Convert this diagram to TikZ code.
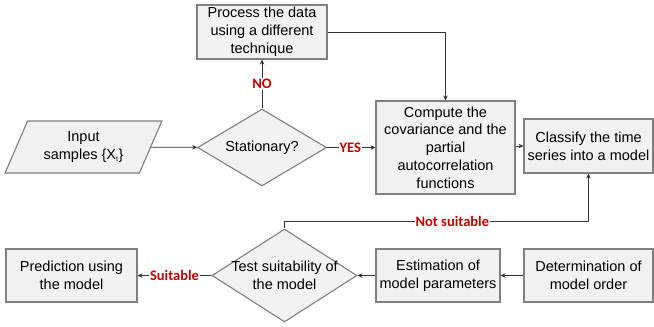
\documentclass[tikz,border=0pt]{standalone}
\usepackage{fontspec}
\setmainfont{Liberation Sans}
\newfontfamily\labfont{Carlito}
\usetikzlibrary{shapes.geometric,arrows.meta}
\definecolor{boxfill}{HTML}{F2F2F2}
\definecolor{boxline}{HTML}{808080}
\definecolor{wire}{HTML}{333333}
\definecolor{labred}{HTML}{C00000}
\tikzset{
  txt/.style={align=center, font=\fontsize{14.5}{17.8}\selectfont, inner sep=0pt},
  base/.style={txt, draw=boxline, fill=boxfill, line width=1.1pt},
  procbox/.style={base, rectangle},
  decision/.style={base, diamond},
  iobox/.style={base, trapezium, trapezium left angle=62.5,
    trapezium right angle=117.5, trapezium stretches=true},
  wirearrow/.style={draw=wire, line width=0.8pt, line join=round,
    -{Stealth[length=5pt,width=4.5pt]}},
  lab/.style={fill=white, text=labred, inner sep=1pt,
    font=\labfont\bfseries\fontsize{14.5}{16}\selectfont}
}
\begin{document}
\begin{tikzpicture}[x=1pt,y=-1pt]
\useasboundingbox (0,0) rectangle (654,327);

% top part
\node[iobox, minimum width=157pt, minimum height=52pt] (input) at (83.5,147)
  {Input\\samples \{X\textsubscript{\scriptsize t}\}};
\node[decision, minimum width=129pt, minimum height=77pt] (stat) at (262,147.5) {};
\node[txt] (stattxt) at (stat.center) {Stationary?};
\node[procbox, minimum width=130pt, minimum height=54pt] (proc) at (262,32)
  {Process the data\\using a different\\technique};
\node[procbox, minimum width=139pt, minimum height=93pt] (comp) at (445.5,147.5)
  {Compute the\\covariance and the\\partial\\autocorrelation\\functions};
\node[procbox, minimum width=129pt, minimum height=54pt] (cls) at (588.5,146)
  {Classify the time\\series into a model};

% bottom part
\node[procbox, minimum width=131pt, minimum height=53pt] (pred) at (71.5,275.5)
  {Prediction using\\the model};
\node[decision, minimum width=145pt, minimum height=93pt] (test) at (284.5,275.5) {};
\node[txt] (testtxt) at (test.center) {Test suitability of\\the model};
\node[procbox, minimum width=124pt, minimum height=53pt] (est) at (438,275.5)
  {Estimation of\\model parameters};
\node[procbox, minimum width=129pt, minimum height=53pt] (det) at (588.5,275.5)
  {Determination of\\model order};
\coordinate (turn) at (284.5,221);

% connectors
\draw[wirearrow] (input) -- (stat);
\draw[wirearrow] (stat.north) -- node[lab]{NO} (proc.south);
\draw[wirearrow] (proc.east) -| (comp.north);
\draw[wirearrow] (stat.east) -- node[lab, pos=0.48]{YES} (stat.east -| comp.west);
\draw[wirearrow] (comp.east |- cls.west) -- (cls.west);
\draw[wirearrow] (test.north) -- (turn) -| node[lab, pos=0.276]{Not suitable} (cls.south);
\draw[wirearrow] (test.west) -- node[lab]{Suitable} (pred.east);
\draw[wirearrow] (est.west) -- (test.east);
\draw[wirearrow] (det.west) -- (est.east);
\end{tikzpicture}
\end{document}
